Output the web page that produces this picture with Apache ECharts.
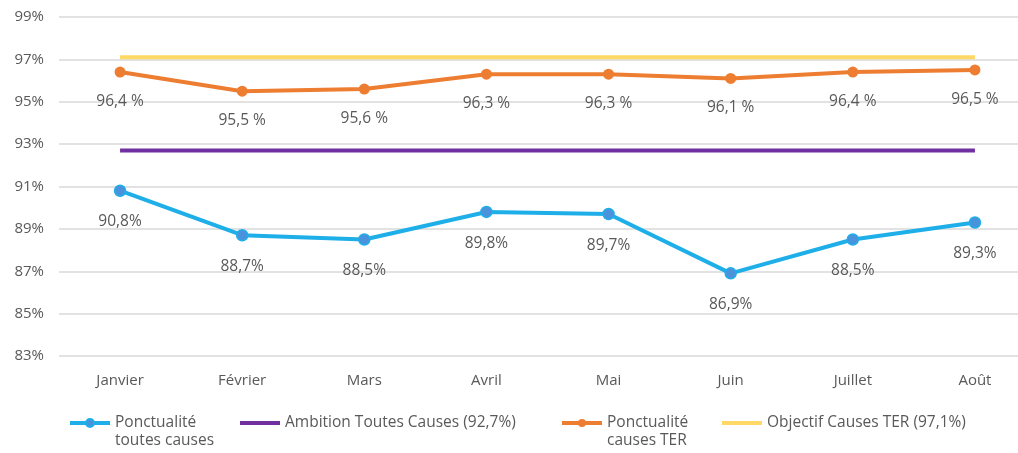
<!DOCTYPE html>
<html>
<head>
<meta charset="utf-8">
<script src="https://cdn.jsdelivr.net/npm/echarts@6/dist/echarts.min.js"></script>
<style>
  html, body { margin: 0; padding: 0; background: #fff; }
  #chart { width: 1018px; height: 453px; }
</style>
</head>
<body>
<div id="chart"></div>
<script>
// donnees
var mois = ['Janvier', 'Février', 'Mars', 'Avril', 'Mai', 'Juin', 'Juillet', 'Août'];
var toutesCauses = [90.8, 88.7, 88.5, 89.8, 89.7, 86.9, 88.5, 89.3];
var causesTer = [96.4, 95.5, 95.6, 96.3, 96.3, 96.1, 96.4, 96.5];
var ambition = 92.7;
var objectif = 97.1;

var nomBleu = 'Ponctualité\ntoutes causes';
var nomViolet = 'Ambition Toutes Causes (92,7%)';
var nomOrange = 'Ponctualité\ncauses TER';
var nomJaune = 'Objectif Causes TER (97,1%)';

var police = 'Open Sans';
var gris = '#595959';

function virgule(v) {
  return v.toFixed(1).replace('.', ',');
}

var myChart = echarts.init(document.getElementById('chart'));

// une legende par serie, placee a la main comme sur l'original
function legende(nom, x, deuxLignes) {
  return {
    data: [nom],
    left: x,
    top: deuxLignes ? 396 : 414,
    padding: 0,
    itemWidth: 40,
    itemHeight: 10,
    itemGap: 0,
    lineStyle: { width: 4 },
    // pas de rond pour les objectifs (traits seuls)
    itemStyle: deuxLignes ? {} : { opacity: 0 },
    formatter: function (n) {
      // ligne vide en tete pour que la 1re ligne soit au niveau du trait
      return deuxLignes ? '\n' + n : n;
    },
    textStyle: {
      color: gris,
      fontFamily: police,
      fontSize: 15.5,
      lineHeight: 18
    }
  };
}

var option = {
  animation: false,
  textStyle: { fontFamily: police },
  // le graphique d'origine est coupe a droite : la grille deborde
  grid: { left: 59, width: 977, top: 17, bottom: 97, outerBoundsMode: 'none' },
  legend: [
    legende(nomBleu, 68, true),
    legende(nomViolet, 238, false),
    legende(nomOrange, 560, true),
    legende(nomJaune, 720, false)
  ],
  xAxis: {
    type: 'category',
    data: mois,
    boundaryGap: true,
    axisLine: { show: false },
    axisTick: { show: false },
    axisLabel: { color: gris, fontSize: 15, margin: 17, fontFamily: police }
  },
  yAxis: {
    type: 'value',
    min: 83,
    max: 99,
    interval: 2,
    axisLine: { show: false },
    axisTick: { show: false },
    axisLabel: {
      color: gris, fontSize: 15, margin: 15, fontFamily: police,
      formatter: function (v) { return v + '%'; }
    },
    splitLine: { lineStyle: { color: '#d9d9d9', width: 1.5 } }
  },
  series: [
    {
      name: nomBleu,
      type: 'line',
      data: toutesCauses,
      symbol: 'circle',
      symbolSize: 11,
      lineStyle: { color: '#1eaee8', width: 4 },
      itemStyle: { color: '#4a92dc', borderColor: '#1eaee8', borderWidth: 1.5 },
      label: {
        show: true, position: 'bottom', distance: 17,
        color: gris, fontSize: 15.5, fontFamily: police,
        formatter: function (p) { return virgule(p.value) + '%'; }
      },
      z: 5
    },
    {
      name: nomViolet,
      type: 'line',
      data: mois.map(function () { return ambition; }),
      symbol: 'none',
      lineStyle: { color: '#7030a0', width: 4 },
      itemStyle: { color: '#7030a0' },
      z: 3
    },
    {
      name: nomOrange,
      type: 'line',
      data: causesTer,
      symbol: 'circle',
      symbolSize: 11,
      lineStyle: { color: '#ed7d31', width: 4 },
      itemStyle: { color: '#ed7d31' },
      label: {
        show: true, position: 'bottom', distance: 16,
        color: gris, fontSize: 15.5, fontFamily: police,
        formatter: function (p) { return virgule(p.value) + ' %'; }
      },
      z: 5
    },
    {
      name: nomJaune,
      type: 'line',
      data: mois.map(function () { return objectif; }),
      symbol: 'none',
      lineStyle: { color: '#ffd966', width: 4 },
      itemStyle: { color: '#ffd966' },
      z: 3
    }
  ]
};

myChart.setOption(option);
</script>
</body>
</html>
